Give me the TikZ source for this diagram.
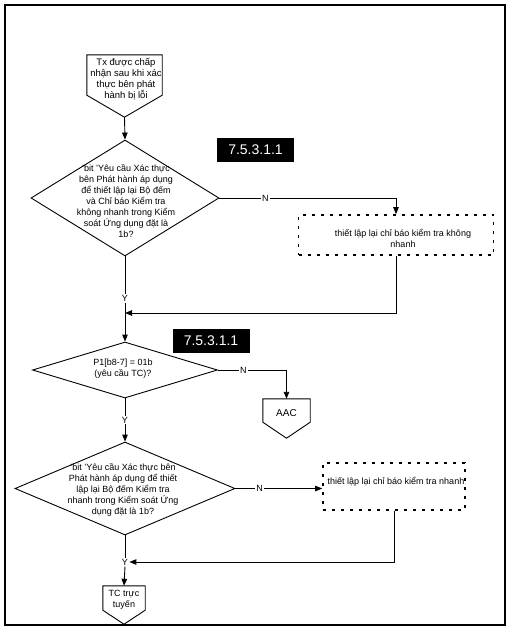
\documentclass[tikz,border=0pt]{standalone}
\usepackage{fontspec}
\setmainfont{Liberation Sans}
\usetikzlibrary{shapes.geometric,arrows.meta,calc}
\begin{document}
\begin{tikzpicture}[x=1pt,y=-1pt,
  every node/.style={font=\fontsize{9}{11}\selectfont},
  flow/.style={line width=0.9pt,-{Triangle[length=7pt,width=5.5pt]}},
  line/.style={line width=0.9pt},
  dec/.style={diamond,draw,line width=0.9pt,inner sep=0pt},
  txt/.style={align=center,inner sep=0pt},
  lab/.style={fill=white,inner sep=1.2pt},
  secbox/.style={fill=black,text=white,font=\fontsize{14}{16}\selectfont,minimum width=77pt,minimum height=24pt,inner sep=0pt},
  dotbox/.style={draw,line width=1.6pt,dash pattern=on 3pt off 6pt,inner sep=0pt},
  pent/.style={draw,line width=0.9pt,line join=miter},
  hold/.style={inner sep=0pt}]
\useasboundingbox (0,0) rectangle (509,632);
\draw[line width=1.2pt] (5,5) rectangle (505,625);

% start connector
\node[hold,minimum width=75pt,minimum height=40pt] (start) at (124.5,75) {};
\draw[pent] (start.north west) -- (start.north east) -- (start.south east) -- ($(start.south)+(0,22)$) -- (start.south west) -- cycle;
\node[txt,font=\fontsize{9.5}{10.8}\selectfont] (startT) at (126,79) {Tx được chấp\\nhận sau khi xác\\thực bên phát\\hành bị lỗi};
\coordinate (startTip) at ($(start.south)+(0,22)$);

% decision 1
\node[dec,minimum width=188pt,minimum height=116pt] (d1) at (125,198) {};
\node[txt] (d1T) at (126,201) {'bit 'Yêu cầu Xác thực\\bên Phát hành áp dụng\\để thiết lập lại Bộ đếm\\và Chỉ báo Kiểm tra\\không nhanh trong Kiểm\\soát Ứng dụng đặt là\\1b?};
\draw[flow] (startTip) -- (d1.north);

\node[secbox] (s1) at (255.5,150) {7.5.3.1.1};

% dotted box 1
\node[dotbox,minimum width=195pt,minimum height=40pt] (b1) at (396,235) {};
\node[txt] (b1T) at (403,238) {thiết lập lại chỉ báo kiểm tra không\\nhanh};
\draw[flow] (d1.east) -- node[lab,pos=0.26]{N} (d1.east -| b1.north) -- (b1.north);

% merge 1
\coordinate (m1) at (125,313);
\draw[line] (d1.south) -- node[lab,pos=0.74]{Y} (m1);
\draw[flow] (b1.south) |- (m1);

% decision 2
\node[dec,minimum width=185pt,minimum height=56pt] (d2) at (125,370) {};
\node[txt] (d2T) at (123,369) {P1[b8-7] = 01b\\(yêu cầu TC)?};
\draw[flow] (m1) -- (d2.north);

\node[secbox] (s2) at (211,341) {7.5.3.1.1};

% AAC
\node[hold,minimum width=47pt,minimum height=23pt] (aac) at (286.5,410.5) {};
\draw[pent] (aac.north west) -- (aac.north east) -- (aac.south east) -- ($(aac.south)+(0,16)$) -- (aac.south west) -- cycle;
\node[txt,font=\fontsize{10}{12}\selectfont] (aacT) at (286.5,413) {AAC};
\draw[flow] (d2.east) -- node[lab,pos=0.37]{N} (d2.east -| aac.north) -- (aac.north);

% decision 3
\node[dec,minimum width=220pt,minimum height=93pt] (d3) at (125,488.5) {};
\node[txt] (d3T) at (123,490) {'bit 'Yêu cầu Xác thực bên\\Phát hành áp dụng để thiết\\lập lại Bộ đếm Kiểm tra\\nhanh trong Kiểm soát Ứng\\dụng đặt là 1b?};
\draw[flow] (d2.south) -- node[lab,pos=0.5]{Y} (d3.north);

% dotted box 2
\node[dotbox,minimum width=142pt,minimum height=47pt] (b2) at (394,486.5) {};
\node[txt] (b2T) at (396,482) {thiết lập lại chỉ báo kiểm tra nhanh};
\draw[flow] (d3.east) -- node[lab,pos=0.28]{N} (d3.east -| b2.west);

% merge 2
\node[lab] (y3) at (125,562) {Y};
\draw[line] (d3.south) -- (y3.north);
\draw[flow] (b2.south) |- (y3.east);

% TC online
\node[hold,minimum width=42pt,minimum height=24pt] (tc) at (124,598) {};
\draw[pent] (tc.north west) -- (tc.north east) -- (tc.south east) -- ($(tc.south)+(0,14)$) -- (tc.south west) -- cycle;
\node[txt] (tcT) at (124,600) {TC trực\\tuyến};
\draw[flow] (y3.south) -- (tc.north);
\end{tikzpicture}
\end{document}
